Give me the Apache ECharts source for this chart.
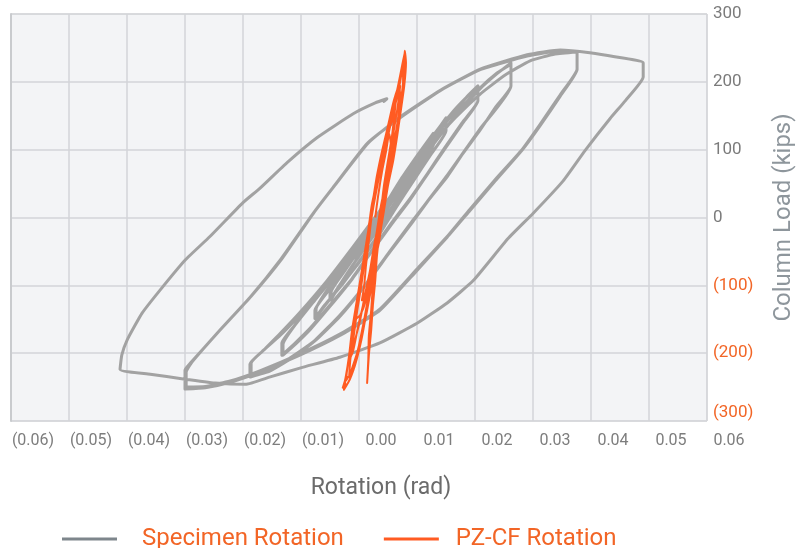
<!DOCTYPE html>
<html>
<head>
<meta charset="utf-8">
<script src="https://cdn.jsdelivr.net/npm/echarts@6/dist/echarts.min.js"></script>
<style>
  html, body { margin: 0; padding: 0; background: #ffffff; }
  #chart { width: 810px; height: 548px; }
</style>
</head>
<body>
<div id="chart"></div>
<script>
// ---- Specimen rotation (rad) vs column load (kips), in test order ----
const specimenLoopA = [
  [0,0],[0.0021,26],[0.0041,54],[0.0041,46],[0.0021,18],[-0.0002,-10],[-0.0024,-37],[-0.0041,-56],
  [-0.0041,-49],[-0.0019,-24],[0.0003,4],[0.0024,31],[0.0045,57],[0.0045,47],[0.0024,21],[0.0002,-7],
  [-0.0022,-37],[-0.0045,-60],[-0.0045,-51]
];
const specimenLoopB = [
  [-0.0021,-24],[0.0009,21],[0.0034,56],[0.0062,91],[0.0090,124],[0.0090,109],[0.0064,74],[0.0036,37],
  [0.0009,0],[-0.0019,-34],[-0.0048,-69],[-0.0074,-103],[-0.0088,-122],[-0.0088,-112],[-0.0066,-81],
  [-0.0041,-49],[-0.0017,-15],[0.0009,21],[0.0034,56],[0.0064,91],[0.0091,122],[0.0091,109],[0.0066,75],
  [0.0038,38],[0.0010,1],[-0.0017,-32],[-0.0047,-68],[-0.0072,-101],[-0.0086,-121],[-0.0086,-110]
];
const specimenLoopC = [
  [-0.0062,-78],[-0.0036,-46],[-0.0010,-13],[0.0016,22],[0.0041,57],[0.0067,91],[0.0091,121],[0.0112,147],
  [0.0112,128],[0.0084,91],[0.0053,51],[0.0024,13],[-0.0005,-26],[-0.0036,-63],[-0.0067,-99],[-0.0097,-129],
  [-0.0114,-149],[-0.0114,-137],[-0.0090,-107],[-0.0064,-78],[-0.0038,-46],[-0.0012,-13],[0.0014,22],
  [0.0039,57],[0.0065,91],[0.0090,121],[0.0112,146],[0.0112,128],[0.0086,93],[0.0055,53],[0.0026,15],
  [-0.0003,-25],[-0.0034,-62],[-0.0066,-97],[-0.0095,-128],[-0.0112,-147],[-0.0112,-135]
];
const specimenLoopD = [
  [-0.0084,-96],[-0.0053,-57],[-0.0024,-24],[0.0007,13],[0.0036,50],[0.0067,88],[0.0098,125],[0.0128,157],
  [0.0148,178],[0.0167,194],[0.0167,172],[0.0140,140],[0.0110,103],[0.0081,66],[0.0050,28],[0.0019,-7],
  [-0.0016,-49],[-0.0050,-90],[-0.0088,-129],[-0.0122,-163],[-0.0148,-185],[-0.0171,-203],[-0.0171,-185],
  [-0.0146,-156],[-0.0117,-125],[-0.0087,-93],[-0.0056,-57],[-0.0027,-24],[0.0004,13],[0.0033,50],
  [0.0064,88],[0.0095,125],[0.0125,157],[0.0146,176],[0.0167,193],[0.0167,172],[0.0140,138],[0.0110,101],
  [0.0081,65],[0.0050,26],[0.0019,-9],[-0.0016,-50],[-0.0050,-91],[-0.0088,-131],[-0.0122,-165],
  [-0.0148,-187],[-0.0169,-203],[-0.0169,-187]
];
const specimenLoopE = [
  [-0.0140,-149],[-0.0093,-100],[-0.0048,-51],[-0.0002,-1],[0.0033,40],[0.0067,81],[0.0102,121],
  [0.0136,157],[0.0171,190],[0.0200,212],[0.0224,228],[0.0224,194],[0.0171,131],[0.0114,62],[0.0055,-4],
  [0.0016,-49],[-0.0028,-100],[-0.0071,-144],[-0.0114,-181],[-0.0157,-207],[-0.0191,-225],[-0.0224,-235],
  [-0.0224,-215],[-0.0203,-196],[-0.0174,-174],[-0.0140,-144],[-0.0093,-100],[-0.0048,-51],[-0.0002,-1],
  [0.0033,40],[0.0067,81],[0.0102,121],[0.0136,159],[0.0171,191],[0.0200,213],[0.0224,226],[0.0224,194],
  [0.0197,162],[0.0171,129],[0.0141,94],[0.0114,60],[0.0084,28],[0.0055,-6],[0.0016,-50],[-0.0028,-101],
  [-0.0071,-146],[-0.0114,-182],[-0.0157,-209],[-0.0191,-226],[-0.0226,-235],[-0.0226,-216]
];
const specimenLoopF = [
  [-0.0203,-196],[-0.0174,-171],[-0.0140,-140],[-0.0093,-93],[-0.0048,-43],[-0.0002,10],[0.0041,60],
  [0.0084,106],[0.0128,147],[0.0171,182],[0.0214,210],[0.0257,231],[0.0300,241],[0.0338,244],[0.0338,218],
  [0.0309,179],[0.0274,135],[0.0243,99],[0.0197,54],[0.0153,10],[0.0114,-29],[0.0062,-78],[-0.0002,-137],
  [-0.0071,-174],[-0.0140,-203],[-0.0209,-228],[-0.0260,-243],[-0.0303,-251],[-0.0338,-253],[-0.0338,-225],
  [-0.0329,-215],[-0.0283,-171],[-0.0226,-118],[-0.0174,-63],[-0.0117,6],[-0.0083,44],[-0.0024,109],
  [0.0033,147],[0.0102,187],[0.0171,218],[0.0252,238],[0.0309,246],[0.0338,244],[0.0338,219],[0.0309,181],
  [0.0274,137],[0.0243,100],[0.0197,56],[0.0153,12],[0.0114,-28],[0.0062,-76],[-0.0002,-135],[-0.0071,-172],
  [-0.0140,-201],[-0.0209,-226],[-0.0260,-241],[-0.0303,-249],[-0.0336,-250],[-0.0336,-228]
];
const specimenLoopG = [
  [-0.0326,-213],[-0.0281,-169],[-0.0224,-116],[-0.0172,-62],[-0.0116,7],[-0.0081,46],[-0.0022,110],
  [0.0034,149],[0.0103,188],[0.0172,219],[0.0252,240],[0.0309,247],[0.0360,243],[0.0403,237],[0.0452,228],
  [0.0452,207],[0.0421,172],[0.0395,146],[0.0352,99],[0.0314,54],[0.0262,6],[0.0219,-31],[0.0159,-93],
  [0.0114,-126],[0.0062,-156],[-0.0002,-185],[-0.0071,-206],[-0.0140,-222],[-0.0191,-235],[-0.0234,-246],
  [-0.0286,-244],[-0.0341,-238],[-0.0398,-231],[-0.0450,-224],[-0.0447,-203],[-0.0438,-181],[-0.0412,-141],
  [-0.0381,-107],[-0.0338,-63],[-0.0295,-28],[-0.0238,22],[-0.0209,43],[-0.0162,81],[-0.0110,118],
  [-0.0048,153],[-0.0010,169],[0.0010,175],[0.0005,171]
];

// ---- PZ-CF rotation (rad) vs column load (kips), in test order ----
const pzCycles1 = [
  [-0.0010,0],[-0.0005,32],[0.0002,69],[0.0009,99],[0.0014,124],[0.0017,106],[0.0014,76],[0.0007,40],
  [0,3],[-0.0007,-34],[-0.0016,-71],[-0.0024,-104],[-0.0033,-122],[-0.0029,-100],[-0.0026,-71],
  [-0.0021,-34],[-0.0016,3],[-0.0009,40],[-0.0002,76],[0.0007,106],[0.0016,135],[0.0021,147],[0.0022,128],
  [0.0019,99],[0.0014,62],[0.0007,25],[0,-12],[-0.0009,-49],[-0.0017,-85],[-0.0026,-122],[-0.0036,-144],
  [-0.0043,-149]
];
const pzCycles2 = [
  [-0.0040,-122],[-0.0033,-85],[-0.0026,-49],[-0.0021,-12],[-0.0014,25],[-0.0007,62],[0.0002,99],
  [0.0012,135],[0.0022,172],[0.0031,194],[0.0033,179],[0.0029,143],[0.0022,106],[0.0014,69],[0.0005,32],
  [-0.0003,-4],[-0.0012,-41],[-0.0019,-78],[-0.0028,-115],[-0.0036,-151],[-0.0045,-181],[-0.0052,-203],
  [-0.0048,-174],[-0.0041,-137],[-0.0034,-100],[-0.0028,-63],[-0.0021,-26],[-0.0016,10],[-0.0007,47],
  [0.0002,84],[0.0010,121],[0.0021,157],[0.0029,187],[0.0033,194],[0.0029,165],[0.0022,128],[0.0016,91],
  [0.0009,54],[0,18],[-0.0007,-19],[-0.0014,-56],[-0.0022,-93],[-0.0031,-129],[-0.0040,-163],
  [-0.0048,-196],[-0.0053,-207]
];
const pzCycles3 = [
  [-0.0052,-188],[-0.0047,-151],[-0.0040,-115],[-0.0033,-78],[-0.0026,-41],[-0.0019,-4],[-0.0012,32],
  [-0.0003,69],[0.0005,106],[0.0016,143],[0.0026,179],[0.0034,209],[0.0040,228],[0.0041,209],[0.0036,172],
  [0.0029,135],[0.0021,99],[0.0014,62],[0.0007,25],[-0.0002,-12],[-0.0009,-49],[-0.0016,-85],[-0.0022,-122],
  [-0.0031,-159],[-0.0040,-196],[-0.0055,-235],[-0.0053,-210],[-0.0047,-174],[-0.0041,-137],[-0.0034,-100],
  [-0.0028,-63],[-0.0022,-26],[-0.0016,10],[-0.0007,47],[0.0002,84],[0.0012,128],[0.0022,165],[0.0031,199],
  [0.0040,231]
];
const pzCycles4 = [
  [0.0041,246],[0.0043,228],[0.0040,194],[0.0034,157],[0.0028,121],[0.0021,84],[0.0012,47],[0.0005,10],
  [-0.0002,-26],[-0.0009,-63],[-0.0016,-100],[-0.0024,-137],[-0.0033,-174],[-0.0043,-210],[-0.0053,-237],
  [-0.0064,-254],[-0.0060,-232],[-0.0055,-203],[-0.0050,-166],[-0.0043,-129],[-0.0036,-93],[-0.0029,-56],
  [-0.0022,-19],[-0.0016,18],[-0.0007,54],[0.0002,91],[0.0012,128],[0.0022,165],[0.0031,201],[0.0038,231],
  [0.0041,243],[0.0041,224],[0.0038,187],[0.0031,150],[0.0024,113],[0.0017,76],[0.0010,40],[0.0003,3],
  [-0.0003,-34],[-0.0012,-71],[-0.0019,-107],[-0.0026,-144],[-0.0034,-181],[-0.0045,-218],[-0.0057,-244],
  [-0.0066,-251]
];
const pzCycles4b = [
  [-0.0062,-240],[-0.0055,-205],[-0.0048,-168],[-0.0041,-130],[-0.0034,-95],[-0.0027,-58],[-0.0020,-20],
  [-0.0013,17],[-0.0005,53],[0.0004,90],[0.0014,128],[0.0024,166],[0.0033,200],[0.0039,235],[0.0041,240],
  [0.0040,215],[0.0036,180],[0.0030,145],[0.0023,108],[0.0016,72],[0.0008,35],[0.0001,-2],[-0.0006,-40],
  [-0.0014,-78],[-0.0022,-117],[-0.0030,-155],[-0.0039,-192],[-0.0050,-225],[-0.0060,-240]
];
const pzCycles5 = [
  [-0.0059,-228],[-0.0053,-196],[-0.0047,-159],[-0.0040,-122],[-0.0033,-85],[-0.0026,-49],[-0.0019,-12],
  [-0.0012,25],[-0.0003,62],[0.0007,99],[0.0017,140],[0.0028,179],[0.0038,228],[0.0038,201],[0.0033,165],
  [0.0026,128],[0.0019,91],[0.0012,54],[0.0005,18],[-0.0002,-19],[-0.0007,-56],[-0.0010,-93],[-0.0014,-129],
  [-0.0017,-166],[-0.0021,-203],[-0.0024,-244],[-0.0022,-210],[-0.0021,-174],[-0.0017,-137],[-0.0014,-100],
  [-0.0010,-63],[-0.0005,-26],[0,10],[0.0005,47],[0.0012,84],[0.0019,121],[0.0022,143],[0.0026,175]
];

const seriesNames = ['Specimen Rotation', 'PZ-CF Rotation'];

const specimenData = [].concat(specimenLoopA, specimenLoopB, specimenLoopC, specimenLoopD,
                               specimenLoopE, specimenLoopF, specimenLoopG);
const pzData = [].concat(pzCycles1, pzCycles2, pzCycles3, pzCycles4, pzCycles4b, pzCycles5);

const FONT = 'Roboto, "Liberation Sans", "DejaVu Sans", sans-serif';
const ORANGE = '#f26526';

function fmtRot(v) {
  const a = Math.abs(v) < 1e-9 ? 0 : v;
  const s = Math.abs(a).toFixed(2);
  return a < 0 ? '(' + s + ')' : s;
}
function fmtLoad(v) {
  const r = Math.round(v);
  if (r < 0) return (r <= -300 ? '{negEdge|(' : '{neg|(') + Math.abs(r) + ')}';
  return '{pos|' + r + '}';
}

const chart = echarts.init(document.getElementById('chart'), null, { renderer: 'canvas' });
chart.setOption({
  animation: false,
  backgroundColor: '#ffffff',
  textStyle: { fontFamily: FONT },
  grid: [
    { left: 11, right: 103, top: 14, bottom: 127, show: true, backgroundColor: '#f3f4f6',
      borderColor: '#d3d5d8', borderWidth: 1 },
    { left: 33, right: 81, top: 14, bottom: 127 }
  ],
  xAxis: [
    { gridIndex: 0, type: 'value', min: 0, max: 12, interval: 1,
      axisLabel: { show: false }, axisLine: { show: false }, axisTick: { show: false },
      splitLine: { show: true, lineStyle: { color: '#d3d5d8', width: 1.5 } } },
    { gridIndex: 0, type: 'value', min: -0.0638, max: 0.0562, show: false,
      splitLine: { show: false } },
    { gridIndex: 1, type: 'value', min: -0.06, max: 0.06, interval: 0.01, position: 'bottom',
      axisLine: { show: false }, axisTick: { show: false }, splitLine: { show: false },
      axisLabel: { formatter: fmtRot, color: '#7d7d7d', fontSize: 16, margin: 12, fontFamily: FONT },
      name: 'Rotation (rad)', nameLocation: 'middle', nameGap: 56,
      nameTextStyle: { color: '#6b6b6b', fontSize: 23, fontFamily: FONT } }
  ],
  yAxis: [
    { gridIndex: 0, type: 'value', min: -300, max: 300, interval: 100, position: 'right',
      axisLine: { show: true, lineStyle: { color: '#c9cbce', width: 2 } },
      axisTick: { show: false },
      splitLine: { show: true, lineStyle: { color: '#d3d5d8', width: 1.5 } },
      axisLabel: {
        formatter: fmtLoad, margin: 6, fontFamily: FONT,
        rich: {
          pos: { color: '#7b7b7b', fontSize: 17, fontFamily: FONT },
          neg: { color: ORANGE, fontSize: 17, fontFamily: FONT },
          negEdge: { color: ORANGE, fontSize: 17, fontFamily: FONT, padding: [0, 0, 16, 0] }
        }
      },
      name: 'Column Load (kips)', nameLocation: 'middle', nameRotate: 90, nameGap: 65,
      nameTextStyle: { color: '#8e969c', fontSize: 24, fontFamily: FONT } },
    { gridIndex: 1, type: 'value', min: -300, max: 300, show: false, splitLine: { show: false } }
  ],
  legend: {
    left: 62, top: 527, padding: 0, icon: 'rect', itemWidth: 55, itemHeight: 3, itemGap: 40,
    textStyle: { color: ORANGE, fontSize: 24, fontFamily: FONT, padding: [0, 0, 0, 20] },
    data: [
      { name: seriesNames[0], itemStyle: { color: '#7e868c' } },
      { name: seriesNames[1], itemStyle: { color: '#ff5b22' },
        textStyle: { color: ORANGE, fontSize: 24, fontFamily: FONT, padding: [0, 0, 0, 12] } }
    ]
  },
  series: [
    { name: seriesNames[0], type: 'line', xAxisIndex: 1, yAxisIndex: 0, data: specimenData,
      symbol: 'none', z: 2, smooth: 0.15,
      itemStyle: { color: '#a2a2a2' },
      lineStyle: { color: '#a2a2a2', width: 3, join: 'round', cap: 'round' } },
    { name: seriesNames[1], type: 'line', xAxisIndex: 1, yAxisIndex: 0, data: pzData,
      symbol: 'none', z: 3, smooth: 0.2,
      itemStyle: { color: '#ff5b22' },
      lineStyle: { color: '#ff5b22', width: 2, join: 'round' } }
  ]
});
</script>
</body>
</html>
